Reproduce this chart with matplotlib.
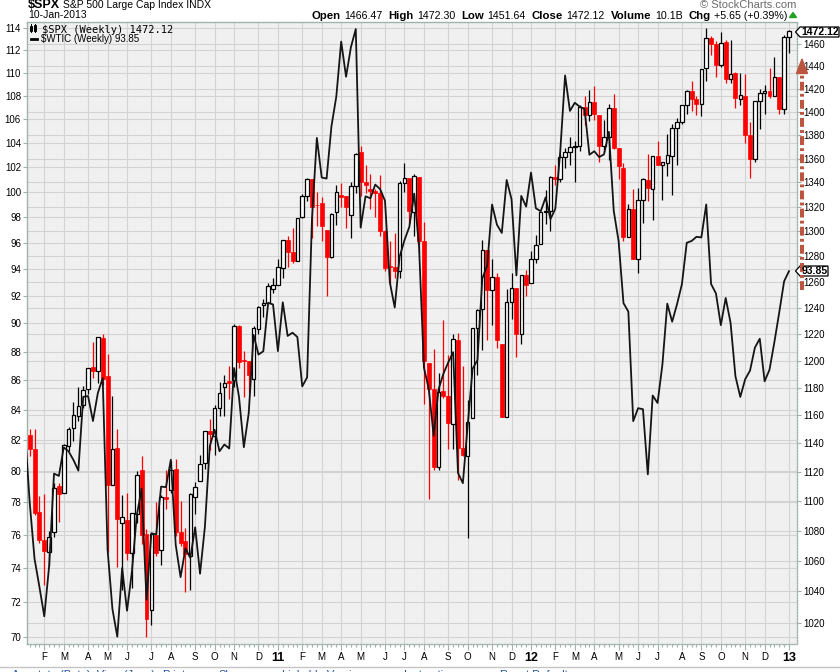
import numpy as np
import pandas as pd
import matplotlib
matplotlib.use('Agg')
import matplotlib.pyplot as plt
import matplotlib.ticker as mticker
import matplotlib.transforms as mtransforms
from matplotlib.patches import Polygon, Rectangle

# weekly bars, week ending Friday (last bar ends Thu 10-Jan-2013)
dates = pd.date_range('2010-01-15', periods=157, freq='W-FRI')

spx_open = [
    1145.96, 1136.03, 1092.40, 1073.89, 1065.51, 1079.13, 1110.00, 1105.36, 1138.40, 1150.83,
    1159.36, 1167.71, 1178.71, 1194.94, 1192.13, 1217.07, 1188.58, 1111.11, 1136.52, 1084.78,
    1087.30, 1064.88, 1091.21, 1121.34, 1077.50, 1028.09, 1077.23, 1066.85, 1102.89, 1107.53,
    1122.07, 1079.15, 1073.36, 1062.90, 1102.60, 1113.38, 1126.21, 1148.64, 1144.96, 1165.32,
    1180.52, 1184.74, 1185.71, 1225.59, 1200.44, 1199.97, 1186.60, 1223.87, 1241.84, 1243.85,
    1254.66,
    1257.62, 1270.84, 1293.22, 1283.63, 1276.69, 1311.85, 1328.73, 1343.08, 1321.60, 1322.72,
    1301.19, 1279.46, 1315.45, 1329.48, 1329.01, 1313.35, 1337.14, 1365.21, 1340.20, 1334.77,
    1333.07, 1331.10, 1300.26, 1272.00, 1271.50, 1268.44, 1339.64, 1343.31, 1315.94, 1344.32,
    1292.59, 1198.48, 1178.86, 1123.55, 1177.91, 1173.97, 1153.50, 1214.99, 1136.91, 1131.21,
    1158.15, 1224.47, 1238.72, 1284.96, 1253.21, 1263.85, 1212.52, 1158.67, 1244.33, 1255.05,
    1219.74, 1265.02, 1258.86, 1277.83, 1290.22, 1315.29, 1316.16, 1344.32, 1342.61, 1361.22,
    1365.20, 1369.59, 1370.78, 1404.17, 1397.11, 1408.47, 1397.45, 1370.27, 1378.53, 1403.26,
    1368.79, 1351.93, 1295.73, 1317.82, 1278.03, 1325.72, 1342.42, 1334.81, 1362.33, 1354.66,
    1356.50, 1362.34, 1385.94, 1391.04, 1405.87, 1418.13, 1411.13, 1406.54, 1438.44, 1465.42,
    1460.07, 1440.90, 1461.40, 1428.75, 1433.74, 1411.34, 1414.02, 1379.86, 1359.88, 1409.15,
    1416.34, 1418.07, 1413.54, 1430.15, 1402.43, 1466.47]

spx_high = [
    1150.41, 1150.45, 1103.69, 1104.73, 1080.04, 1112.42, 1112.29, 1139.38, 1151.26, 1169.20,
    1180.16, 1181.43, 1194.66, 1213.92, 1217.28, 1219.80, 1205.13, 1173.57, 1150.50, 1104.09,
    1105.67, 1092.00, 1120.47, 1131.23, 1080.78, 1078.16, 1099.08, 1103.73, 1120.95, 1127.30,
    1129.24, 1100.14, 1081.58, 1105.10, 1112.89, 1131.47, 1148.90, 1157.16, 1167.73, 1184.38,
    1189.43, 1196.14, 1227.08, 1226.84, 1207.43, 1200.00, 1225.57, 1240.97, 1246.73, 1259.33,
    1262.60,
    1278.17, 1293.24, 1296.06, 1302.67, 1311.00, 1330.79, 1344.07, 1343.08, 1332.28, 1327.65,
    1301.19, 1314.80, 1337.85, 1339.46, 1329.01, 1340.00, 1364.56, 1370.58, 1354.36, 1346.82,
    1334.62, 1345.92, 1301.38, 1292.50, 1298.61, 1341.01, 1356.48, 1343.31, 1347.00, 1344.32,
    1307.38, 1198.48, 1208.47, 1190.68, 1230.71, 1204.40, 1220.06, 1220.39, 1195.86, 1171.36,
    1224.61, 1239.03, 1292.66, 1284.96, 1277.55, 1266.98, 1212.52, 1254.05, 1267.06, 1255.05,
    1265.42, 1269.37, 1284.62, 1296.82, 1315.49, 1333.47, 1345.34, 1354.32, 1363.40, 1368.92,
    1378.04, 1374.76, 1405.88, 1414.00, 1419.15, 1422.38, 1397.45, 1392.76, 1406.64, 1415.32,
    1368.79, 1356.31, 1321.95, 1334.93, 1335.52, 1343.32, 1363.46, 1362.17, 1374.81, 1357.26,
    1380.39, 1389.19, 1394.16, 1405.95, 1418.71, 1426.68, 1413.46, 1437.92, 1474.51, 1467.07,
    1463.06, 1470.96, 1464.02, 1464.02, 1435.00, 1434.27, 1433.38, 1391.39, 1409.16, 1419.70,
    1423.73, 1438.59, 1448.00, 1430.15, 1467.94, 1472.30]

spx_low = [
    1131.39, 1090.18, 1071.59, 1044.50, 1056.51, 1075.58, 1086.02, 1105.36, 1134.25, 1141.69,
    1156.15, 1165.05, 1175.05, 1186.77, 1183.68, 1181.62, 1065.79, 1111.11, 1055.90, 1040.78,
    1060.41, 1042.17, 1085.31, 1071.34, 1010.91, 1018.35, 1063.32, 1056.88, 1094.77, 1105.45,
    1076.61, 1069.50, 1039.70, 1040.88, 1091.15, 1113.38, 1122.25, 1135.19, 1131.87, 1159.71,
    1159.71, 1171.70, 1180.20, 1194.08, 1173.00, 1176.00, 1173.64, 1219.84, 1232.85, 1243.85,
    1251.48,
    1257.62, 1262.66, 1271.26, 1275.10, 1276.69, 1310.99, 1324.61, 1294.26, 1304.22, 1291.99,
    1249.05, 1278.49, 1305.26, 1320.06, 1302.74, 1294.70, 1331.47, 1329.17, 1331.03, 1318.51,
    1311.80, 1296.50, 1268.30, 1258.07, 1262.87, 1262.66, 1331.79, 1306.27, 1295.92, 1282.86,
    1168.09, 1101.54, 1121.09, 1121.50, 1172.09, 1136.07, 1136.22, 1114.22, 1131.07, 1074.77,
    1158.15, 1189.55, 1207.72, 1215.42, 1226.64, 1209.43, 1158.66, 1158.66, 1231.47, 1202.37,
    1212.35, 1248.64, 1258.86, 1274.65, 1290.22, 1306.06, 1300.49, 1337.52, 1340.03, 1352.28,
    1354.92, 1340.03, 1366.69, 1388.13, 1391.56, 1392.90, 1357.38, 1365.38, 1358.79, 1367.96,
    1343.13, 1291.98, 1295.73, 1277.82, 1266.74, 1306.62, 1324.41, 1309.27, 1354.65, 1325.41,
    1345.07, 1329.24, 1354.65, 1389.71, 1398.04, 1400.60, 1397.42, 1396.56, 1426.68, 1449.98,
    1430.53, 1439.01, 1425.53, 1425.30, 1403.28, 1405.95, 1373.03, 1343.35, 1357.00, 1385.43,
    1398.11, 1411.88, 1413.50, 1398.11, 1398.11, 1451.64]

spx_close = [
    1136.03, 1091.76, 1073.87, 1066.19, 1075.51, 1109.17, 1104.49, 1138.70, 1149.99, 1159.90,
    1166.59, 1178.10, 1194.37, 1192.13, 1217.28, 1186.69, 1110.88, 1135.68, 1087.69, 1089.41,
    1064.88, 1091.60, 1117.51, 1076.76, 1022.58, 1077.96, 1064.88, 1102.66, 1101.60, 1121.64,
    1079.25, 1071.69, 1064.59, 1104.51, 1109.55, 1125.59, 1148.67, 1146.24, 1165.15, 1176.19,
    1183.08, 1183.26, 1225.85, 1199.21, 1199.73, 1189.40, 1224.71, 1240.40, 1243.91, 1256.77,
    1257.64,
    1271.50, 1293.24, 1283.35, 1276.34, 1310.87, 1329.15, 1343.01, 1319.88, 1321.15, 1304.28,
    1279.20, 1313.80, 1332.41, 1328.17, 1319.68, 1337.38, 1363.61, 1340.20, 1337.77, 1333.27,
    1331.10, 1300.16, 1270.98, 1271.50, 1268.45, 1339.67, 1343.80, 1316.14, 1345.02, 1292.28,
    1199.38, 1178.81, 1123.53, 1176.80, 1173.97, 1154.23, 1216.01, 1136.43, 1131.42, 1155.46,
    1224.58, 1238.25, 1285.09, 1253.23, 1263.85, 1215.65, 1158.67, 1244.28, 1255.19, 1219.66,
    1265.33, 1257.60, 1277.81, 1289.09, 1315.38, 1316.33, 1344.90, 1342.64, 1361.23, 1365.74,
    1369.63, 1370.87, 1404.17, 1397.11, 1408.47, 1398.08, 1370.26, 1378.53, 1403.36, 1369.10,
    1353.39, 1295.22, 1317.82, 1278.04, 1325.66, 1342.84, 1335.02, 1362.16, 1354.68, 1356.78,
    1362.66, 1385.97, 1390.99, 1405.87, 1418.16, 1411.13, 1406.58, 1437.92, 1465.77, 1460.15,
    1440.67, 1460.93, 1428.59, 1433.19, 1411.94, 1414.20, 1379.85, 1359.88, 1409.15, 1416.18,
    1418.07, 1413.58, 1430.15, 1402.43, 1466.47, 1472.12]

# WTIC weekly close; the first value is the week before the first candle
wtic_close = [
    82.75,
    78.00, 74.54, 72.89, 71.19, 74.13, 79.81, 79.66, 81.50, 81.24, 80.68,
    80.00, 84.87, 84.92, 83.24, 85.12, 86.15, 75.11, 71.61, 70.04, 74.00,
    71.51, 73.78, 77.18, 78.86, 72.14, 76.09, 76.01, 78.98, 78.95, 80.70,
    75.39, 73.46, 75.17, 74.60, 76.45, 73.66, 76.49, 81.58, 82.66, 81.25,
    81.69, 81.43, 86.85, 84.88, 81.51, 83.76, 89.19, 87.79, 88.02, 91.51,
    91.38,
    88.03, 91.54, 89.11, 89.34, 89.03, 85.58, 86.20, 97.88, 104.42, 101.16,
    101.07, 105.40, 107.94, 112.79, 109.66, 112.29, 113.93, 97.18, 99.65, 99.49,
    100.59, 100.22, 99.29, 93.01, 91.16, 94.94, 96.20, 97.24, 99.87, 95.70,
    86.88, 85.38, 82.26, 85.37, 86.45, 87.24, 87.96, 79.85, 79.20, 82.98,
    86.80, 87.40, 93.32, 94.26, 98.99, 97.41, 96.77, 100.96, 99.41, 93.53,
    99.68, 98.83, 101.56, 98.70, 98.46, 99.56, 97.84, 98.67, 103.24, 109.77,
    106.70, 107.40, 107.06, 106.87, 103.02, 103.31, 102.83, 103.05, 104.93, 98.49,
    96.13, 91.48, 90.86, 83.23, 84.10, 84.03, 79.76, 84.96, 84.45, 87.10,
    91.44, 90.13, 91.40, 92.87, 96.01, 96.15, 96.47, 96.42, 99.00, 92.89,
    92.19, 89.88, 91.86, 90.05, 86.28, 84.86, 86.07, 86.67, 88.28, 88.91,
    85.93, 86.73, 88.66, 90.80, 93.09, 93.85]

wtic_ticks = list(range(70, 116, 2))
spx_ticks = list(range(1020, 1461, 20))

# Monday holidays, so a week belongs to the month of its first trading day
market_holidays = ['2010-01-18', '2010-02-15', '2010-05-31', '2010-07-05', '2010-09-06',
                   '2011-01-17', '2011-02-21', '2011-05-30', '2011-07-04', '2011-09-05',
                   '2012-01-02', '2012-01-16', '2012-02-20', '2012-05-28', '2012-09-03',
                   '2012-10-29', '2012-10-30']

header = [('Open', True), ('1466.47', False), ('High', True), ('1472.30', False),
          ('Low', True), ('1451.64', False), ('Close', True), ('1472.12', False),
          ('Volume', True), ('10.1B', False), ('Chg', True), ('+5.65 (+0.39%)', False)]
toolbar = [('Annotate (Beta)  View (Java)', 12), ('Print', 162), ('Share', 218),
           ('Linkable Version', 282), ('Instructions', 404), ('Reset Defaults', 500)]

plt.rcParams['font.family'] = ['Liberation Sans', 'DejaVu Sans']

BG = '#f0f0f0'
GRID = '#d3d3d3'
FRAME = '#9fb3ab'
ARROW = '#bb5540'

o = np.array(spx_open)
h = np.array(spx_high)
l = np.array(spx_low)
c = np.array(spx_close)
x = np.arange(len(c))
xw = np.arange(-1, len(c))

W, H = 840, 672
L, R, T, B = 27.3, 797, 21.7, 644
fig = plt.figure(figsize=(W / 100, H / 100), dpi=100)
ax = fig.add_axes([L / W, 1 - B / H, (R - L) / W, (B - T) / H])
ax.set_facecolor(BG)
ax2 = ax.twinx()

ax.set_yscale('log')
ax2.set_yscale('log')
ax.set_xlim(-0.49, 157.65)
ax.set_ylim(1006.7, 1480.3)
ax2.set_ylim(69.63, 114.6)

# month ticks
hol = set(pd.to_datetime(market_holidays))
first_days = []
for d in dates:
    day = d - pd.Timedelta(days=4)
    while day in hol:
        day += pd.Timedelta(days=1)
    first_days.append(day)
month_pos, month_lab = [], []
for i in range(1, len(first_days)):
    if first_days[i].month != first_days[i - 1].month:
        month_pos.append(i)
        if first_days[i].month == 1:
            month_lab.append(first_days[i].strftime('%y'))
        else:
            month_lab.append(first_days[i].strftime('%b')[0])

ax.set_xticks(month_pos)
ax.set_xticklabels(month_lab)
ax.xaxis.set_minor_locator(mticker.FixedLocator(x))
ax.tick_params(axis='x', which='major', length=4, width=0.8, color=FRAME, labelsize=7, pad=1.5)
ax.tick_params(axis='x', which='minor', length=2, width=0.8, color=FRAME)
for t in ax.get_xticklabels():
    if t.get_text().isdigit():
        t.set_fontweight('bold')
        t.set_fontsize(9)

ax.yaxis.tick_right()
ax.yaxis.set_major_locator(mticker.FixedLocator(spx_ticks))
ax.yaxis.set_major_formatter(mticker.FixedFormatter([str(v) for v in spx_ticks]))
ax.yaxis.set_minor_locator(mticker.NullLocator())
ax.tick_params(axis='y', which='major', length=3, width=0.8, color=FRAME, labelsize=7, pad=1.5)

ax2.yaxis.tick_left()
ax2.yaxis.set_major_locator(mticker.FixedLocator(wtic_ticks))
ax2.yaxis.set_major_formatter(mticker.FixedFormatter([str(v) for v in wtic_ticks]))
ax2.yaxis.set_minor_locator(mticker.NullLocator())
ax2.yaxis.set_minor_formatter(mticker.NullFormatter())
ax2.tick_params(axis='y', which='major', length=3, width=0.8, color=FRAME, labelsize=7, pad=1.5)

# grid: SPX + months on ax, WTIC levels drawn under the candles too
ax.set_axisbelow(True)
ax.grid(True, which='major', color=GRID, lw=0.8)
trans = mtransforms.blended_transform_factory(ax.transAxes, ax2.transData)
for v in wtic_ticks:
    ax.plot([0, 1], [v, v], transform=trans, color=GRID, lw=0.8, zorder=0.6)

# candles
up = c >= o
lo_b = np.minimum(o, c)
hi_b = np.maximum(o, c)
ax.vlines(x[~up], l[~up], h[~up], color='red', lw=0.9, zorder=2)
ax.vlines(x[up], l[up], lo_b[up], color='black', lw=0.9, zorder=2)
ax.vlines(x[up], hi_b[up], h[up], color='black', lw=0.9, zorder=2)
ax.bar(x[~up], (hi_b - lo_b)[~up], bottom=lo_b[~up], width=0.82,
       color='red', edgecolor='red', lw=0.5, zorder=3)
ax.bar(x[up], (hi_b - lo_b)[up], bottom=lo_b[up], width=0.72,
       facecolor='white', edgecolor='black', lw=0.9, zorder=3)

ax2.plot(xw, wtic_close, color='#151515', lw=1.3, zorder=4)

ax.set_xlim(-0.49, 157.65)
ax.set_ylim(1006.7, 1480.3)
ax2.set_ylim(69.63, 114.6)

for s in ax2.spines.values():
    s.set_visible(False)
for s in ax.spines.values():
    s.set_color(FRAME)
    s.set_linewidth(1)
ax.spines['right'].set_linestyle((0, (1, 1.2)))
ax.spines['bottom'].set_linestyle((0, (1, 1.2)))

# overlay in image pixels for header, legend, value tags and the arrow
ov = fig.add_axes([0, 0, 1, 1], zorder=5)
ov.set_xlim(0, W)
ov.set_ylim(H, 0)
ov.axis('off')

ov.text(28, 7.5, '\\$SPX', fontsize=9, fontweight='bold', va='baseline')
ov.text(63, 7.5, 'S&P 500 Large Cap Index INDX', fontsize=7.5, va='baseline')
ov.text(28, 18.5, '10-Jan-2013', fontsize=7.5, va='baseline')
ov.text(796, 7.5, '\u00a9 StockCharts.com', fontsize=8, color='#6b6b6b', va='baseline', ha='right')

renderer = fig.canvas.get_renderer()
xpos = 311.5
for txt, bold in header:
    t = ov.text(xpos, 18.8, txt, fontsize=8.2 if bold else 7.7,
                fontweight='bold' if bold else 'normal', va='baseline')
    xpos += t.get_window_extent(renderer).width + (3.5 if bold else 6)
ov.add_patch(Polygon([(789.5, 17.5), (796.5, 17.5), (793, 12.5)], closed=True, color='#22a022'))

# legend
ov.plot([31, 31], [24, 32], color='black', lw=0.7)
ov.add_patch(Rectangle((30, 25.5), 2.2, 5, fc='white', ec='black', lw=0.7))
ov.plot([34.6, 34.6], [24, 32], color='black', lw=0.7)
ov.add_patch(Rectangle((33.5, 25), 2.2, 5.5, fc='black', ec='black', lw=0.7))
ov.text(42, 32.6, '\\$SPX (Weekly) 1472.12', family='DejaVu Sans Mono', fontsize=7.5, va='baseline')
ov.plot([30.5, 37], [38.8, 38.8], color='black', lw=2)
ov.text(41, 42.5, '\\$WTIC (Weekly) 93.85', fontsize=7, va='baseline')

# last value tags on the right
for yy, label, right in [(32, '1472.12', 839), (271, '93.85', 828)]:
    ov.add_patch(Polygon([(795.5, yy), (800, yy - 5), (right, yy - 5), (right, yy + 5), (800, yy + 5)],
                         closed=True, fc='white', ec='black', lw=0.9))
    ov.text((800 + right) / 2 + 0.5, yy + 0.3, label, fontsize=7.5, fontweight='bold',
            ha='center', va='center')

# dash-dot arrow
ov.plot([802, 802], [290, 73], color=ARROW, lw=2.9, linestyle=(0, (2.2, 0.8, 0.7, 0.8)))
ov.add_patch(Polygon([(802, 59), (796.5, 73.5), (807.5, 73.5)], closed=True, color=ARROW))

# toolbar strip, cut at the bottom edge as in the page capture
ov.plot([0, W], [667, 667], color='#c4c4c4', lw=1)
for txt, xx in toolbar:
    ov.text(xx, 669.5, txt, fontsize=8, color='#1e50a2', va='top')

fig.savefig('out.png', dpi=100)
